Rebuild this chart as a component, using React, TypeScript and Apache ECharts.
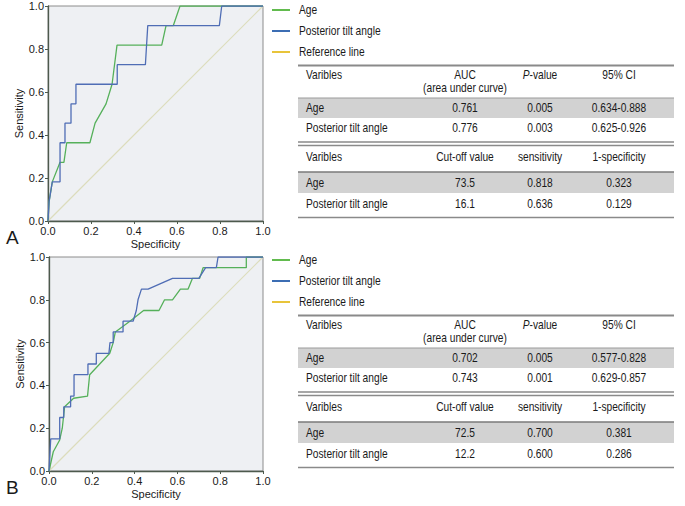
import React, { useEffect, useRef } from 'react';
import * as echarts from 'echarts';

// ---------- data ----------
const legendNames = ['Age', 'Posterior tilt angle', 'Reference line'];
const panelLetters = ['A', 'B'];

const ageA = [
  [0, 0], [0.005, 0.09], [0.02, 0.182], [0.056, 0.273], [0.074, 0.273], [0.087, 0.364],
  [0.195, 0.364], [0.219, 0.455], [0.27, 0.545], [0.298, 0.636], [0.321, 0.818],
  [0.529, 0.818], [0.549, 0.909], [0.583, 0.909], [0.614, 1.0], [1, 1],
];
const tiltA = [
  [0, 0], [0.005, 0.09], [0.02, 0.182], [0.056, 0.182], [0.056, 0.364], [0.079, 0.364],
  [0.079, 0.455], [0.107, 0.455], [0.107, 0.545], [0.13, 0.545], [0.13, 0.636],
  [0.322, 0.636], [0.322, 0.727], [0.453, 0.727], [0.464, 0.909], [0.797, 0.909],
  [0.808, 1.0], [1, 1],
];
const ageB = [
  [0, 0], [0.02, 0.09], [0.05, 0.145], [0.062, 0.2], [0.073, 0.3], [0.115, 0.34],
  [0.18, 0.35], [0.19, 0.45], [0.284, 0.55], [0.3, 0.6], [0.31, 0.65], [0.378, 0.7],
  [0.442, 0.75], [0.514, 0.75], [0.54, 0.8], [0.577, 0.8], [0.614, 0.85], [0.65, 0.85],
  [0.67, 0.9], [0.704, 0.9], [0.72, 0.95], [0.922, 0.95], [0.922, 1.0], [1, 1],
];
const tiltB = [
  [0, 0], [0.008, 0.15], [0.05, 0.15], [0.05, 0.25], [0.069, 0.25], [0.069, 0.3],
  [0.101, 0.3], [0.101, 0.35], [0.117, 0.35], [0.117, 0.45], [0.182, 0.45], [0.182, 0.5],
  [0.221, 0.5], [0.221, 0.55], [0.28, 0.55], [0.285, 0.6], [0.3, 0.6], [0.3, 0.65],
  [0.346, 0.65], [0.346, 0.7], [0.393, 0.7], [0.408, 0.75], [0.416, 0.8], [0.432, 0.85],
  [0.463, 0.85], [0.577, 0.9], [0.7, 0.9], [0.732, 0.95], [0.782, 0.95], [0.79, 1.0], [1, 1],
];
const refLine = [[0, 0], [1, 1]];

const variables = ['Age', 'Posterior tilt angle'];
const aucHeaders = ['Varibles', 'AUC', '{i|P}-value', '95% CI'];
const aucSubHeader = '(area under curve)';
const cutHeaders = ['Varibles', 'Cut-off value', 'sensitivity', '1-specificity'];

const aucA = ['0.761', '0.776'];
const pA = ['0.005', '0.003'];
const ciA = ['0.634-0.888', '0.625-0.926'];
const cutA = ['73.5', '16.1'];
const sensA = ['0.818', '0.636'];
const specA = ['0.323', '0.129'];

const aucB = ['0.702', '0.743'];
const pB = ['0.005', '0.001'];
const ciB = ['0.577-0.828', '0.629-0.857'];
const cutB = ['72.5', '12.2'];
const sensB = ['0.700', '0.600'];
const specB = ['0.381', '0.286'];

// ---------- styles ----------
const FONT = "'Liberation Sans',Arial,Helvetica,sans-serif";
const GREEN = '#55b05a';
const BLUE = '#4f6db5';
const REF = '#dcdcbc';
const LEG_COLORS = ['#62bb4e', '#3c6db3', '#e8c43a'];
const TXT = '#1a1a1a';
const RULE = '#8a8a8a';
const SHADE = '#d2d2d2';
const NARROW = 0.85;

function txt(x: number, y: number, text: string, align: string, size = 12, extra: any = {}, sx = NARROW) {
  return {
    type: 'text',
    x, y,
    scaleX: sx,
    silent: true,
    style: {
      text, fill: TXT, fontSize: size, fontFamily: FONT,
      align, verticalAlign: 'middle', textAlign: align, textVerticalAlign: 'middle',
      ...extra,
    },
  };
}
function hline(x1: number, x2: number, y: number, w: number, c = RULE) {
  return { type: 'line', silent: true, shape: { x1, y1: y, x2, y2: y }, style: { stroke: c, lineWidth: w } };
}
function rect(x: number, y: number, w: number, h: number, c: string) {
  return { type: 'rect', silent: true, shape: { x, y, width: w, height: h }, style: { fill: c } };
}

const TL = 298, TR = 674;
const C1 = 306, C2 = 465, C3 = 540, C4 = 619;

function panelGraphics(o: number, auc: string[], p: string[], ci: string[], cut: string[], sens: string[], spec: string[], letter: string) {
  const g: any[] = [];
  // legend
  const ly = [10, 31, 52];
  legendNames.forEach((n, i) => {
    g.push({ type: 'line', silent: true, shape: { x1: 272, y1: ly[i] + o, x2: 290, y2: ly[i] + o }, style: { stroke: LEG_COLORS[i], lineWidth: 2 } });
    g.push(txt(299, ly[i] + o, n, 'left'));
  });
  // table 1
  g.push(hline(TL, TR, 65.5 + o, 2));
  g.push(txt(C1, 75 + o, aucHeaders[0], 'left'));
  g.push(txt(C2, 75 + o, aucHeaders[1], 'center'));
  g.push(txt(C2, 88 + o, aucSubHeader, 'center'));
  g.push(txt(C3, 75 + o, aucHeaders[2], 'center', 12, { rich: { i: { fontStyle: 'italic', fontSize: 12, fontFamily: FONT, fill: TXT } } }));
  g.push(txt(C4, 75 + o, aucHeaders[3], 'center'));
  g.push(rect(TL, 98 + o, TR - TL, 20, SHADE));
  g.push(hline(TL, TR, 98 + o, 1, '#9a9a9a'));
  const r1 = [108, 128];
  variables.forEach((v, i) => {
    g.push(txt(C1, r1[i] + o, v, 'left'));
    g.push(txt(C2, r1[i] + o, auc[i], 'center'));
    g.push(txt(C3, r1[i] + o, p[i], 'center'));
    g.push(txt(C4, r1[i] + o, ci[i], 'center'));
  });
  // table 2
  g.push(hline(TL, TR, 142 + o, 1.3));
  g.push(hline(TL, TR, 145.5 + o, 1.3));
  g.push(txt(C1, 157 + o, cutHeaders[0], 'left'));
  g.push(txt(C2, 157 + o, cutHeaders[1], 'center'));
  g.push(txt(C3, 157 + o, cutHeaders[2], 'center'));
  g.push(txt(C4, 157 + o, cutHeaders[3], 'center'));
  g.push(rect(TL, 172 + o, TR - TL, 21, SHADE));
  g.push(hline(TL, TR, 172 + o, 1.3, '#7a7a7a'));
  const r2 = [182.5, 204];
  variables.forEach((v, i) => {
    g.push(txt(C1, r2[i] + o, v, 'left'));
    g.push(txt(C2, r2[i] + o, cut[i], 'center'));
    g.push(txt(C3, r2[i] + o, sens[i], 'center'));
    g.push(txt(C4, r2[i] + o, spec[i], 'center'));
  });
  g.push(hline(TL, TR, 217.5 + o, 1.5));
  // panel letter
  g.push(txt(6, 237 + o, letter, 'left', 19, {}, 1));
  return g;
}

function axisPair(gi: number) {
  const common = {
    min: 0, max: 1, interval: 0.2,
    axisLine: { show: true, lineStyle: { color: '#4d5a4d', width: 1.3 } },
    axisTick: { show: true, length: 3, lineStyle: { color: '#4d5a4d' } },
    splitLine: { show: false },
    axisLabel: { fontFamily: FONT, fontSize: 11, color: TXT, margin: 4, formatter: (v: number) => v.toFixed(1) },
    nameTextStyle: { fontFamily: FONT, fontSize: 11, color: TXT },
    nameLocation: 'middle' as const,
  };
  return {
    x: { ...common, type: 'value', gridIndex: gi, name: 'Specificity', nameGap: 17 },
    y: { ...common, type: 'value', gridIndex: gi, name: 'Sensitivity', nameGap: 24 },
  };
}

function lineSeries(name: string, data: number[][], color: string, gi: number, w = 1.3) {
  return {
    type: 'line', name, data, xAxisIndex: gi, yAxisIndex: gi,
    showSymbol: false, symbol: 'none', silent: true,
    lineStyle: { color, width: w }, itemStyle: { color },
  };
}

export default function App() {
  const ref = useRef<HTMLDivElement>(null);
  useEffect(() => {
    if (!ref.current) return;
    const chart = echarts.init(ref.current, null, { renderer: 'svg' });
    const a0 = axisPair(0);
    const a1 = axisPair(1);
    chart.setOption({
      animation: false,
      backgroundColor: '#ffffff',
      grid: [
        { left: 48, top: 6, width: 215, height: 215, show: true, backgroundColor: '#eef0f3', borderColor: '#8c8c8c', borderWidth: 1 },
        { left: 49, top: 257, width: 214, height: 214, show: true, backgroundColor: '#eef0f3', borderColor: '#8c8c8c', borderWidth: 1 },
      ],
      xAxis: [a0.x, a1.x],
      yAxis: [a0.y, a1.y],
      series: [
        lineSeries(legendNames[2], refLine, REF, 0, 1.2),
        lineSeries(legendNames[0], ageA, GREEN, 0),
        lineSeries(legendNames[1], tiltA, BLUE, 0),
        lineSeries(legendNames[2], refLine, REF, 1, 1.2),
        lineSeries(legendNames[0], ageB, GREEN, 1),
        lineSeries(legendNames[1], tiltB, BLUE, 1),
      ],
      graphic: [
        ...panelGraphics(0, aucA, pA, ciA, cutA, sensA, specA, panelLetters[0]),
        ...panelGraphics(250, aucB, pB, ciB, cutB, sensB, specB, panelLetters[1]),
      ],
    });
    return () => chart.dispose();
  }, []);
  return (
    <div style={{ position: 'fixed', left: 0, top: 0, width: 685, height: 506, background: '#fff' }}>
      <div ref={ref} style={{ width: 685, height: 506 }} />
    </div>
  );
}
